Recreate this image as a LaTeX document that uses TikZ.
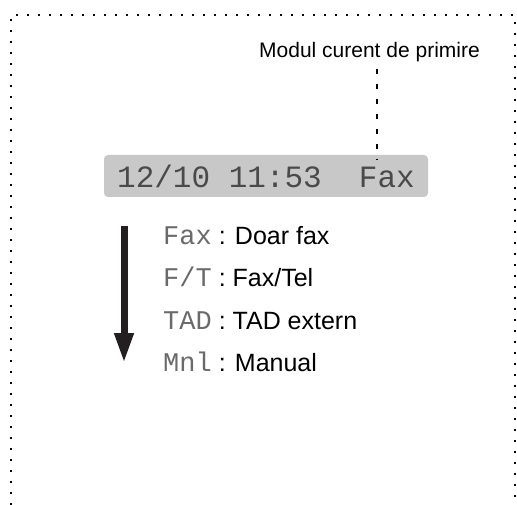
\documentclass[tikz,border=0pt]{standalone}
\usepackage{fontspec}
\setmainfont{Liberation Sans}
\setmonofont{Liberation Mono}
\usetikzlibrary{arrows.meta,positioning}
\definecolor{lcdGRAY}{HTML}{C8C8C8}
\definecolor{lcdTEXT}{HTML}{4A4A4A}
\definecolor{codeGRAY}{HTML}{6A6A6A}
\definecolor{arrowBLACK}{HTML}{231F20}
\newcommand\modecode[1]{{\ttfamily\fontsize{27}{27}\selectfont\color{codeGRAY}#1}}

\begin{document}
\begin{tikzpicture}[x=1pt, y=-1pt, font=\fontsize{25}{30}\selectfont,
    row/.style={anchor=base west, inner sep=0pt}]
    \useasboundingbox (0,0) rectangle (517,505);
    % Frame
    \draw[line width=2pt, dash pattern=on 2pt off 9pt, black] (11,505) -- (11,15) -- (515,15) -- (515,505);

    % Nodes
    \node[fill=lcdGRAY, rounded corners=4pt, minimum width=324pt, minimum height=42pt, inner sep=0pt, text=lcdTEXT, font=\ttfamily\fontsize{31}{31}\selectfont] (lcd) at (266,176) {12/10 11:53~~Fax};
    \node[anchor=base, inner sep=0pt, font=\fontsize{21}{25}\selectfont] (mode) at (369.5,58) {Modul curent de primire};
    \node[row] (rowfax) at (163,245) {\modecode{Fax} : Doar fax};
    \node[row, below=42pt of rowfax.base west, anchor=base west] (rowft) {\modecode{F/T} : Fax/Tel};
    \node[row, below=42pt of rowft.base west, anchor=base west] (rowtad) {\modecode{TAD} : TAD extern};
    \node[row, below=42pt of rowtad.base west, anchor=base west] (rowmnl) {\modecode{Mnl} : Manual};
    \coordinate (tap) at (377,160);
    \coordinate (scrolltop) at (124,226);
    \coordinate (scrollend) at (124,363);

    % Arrows
    \draw[line width=2pt, dash pattern=on 5pt off 10pt, shorten <=6pt] (mode.south -| tap) -- (tap);
    \draw[-{Triangle[width=18pt,length=30pt]}, line width=7pt, arrowBLACK] (scrolltop) -- (scrollend);
\end{tikzpicture}
\end{document}
